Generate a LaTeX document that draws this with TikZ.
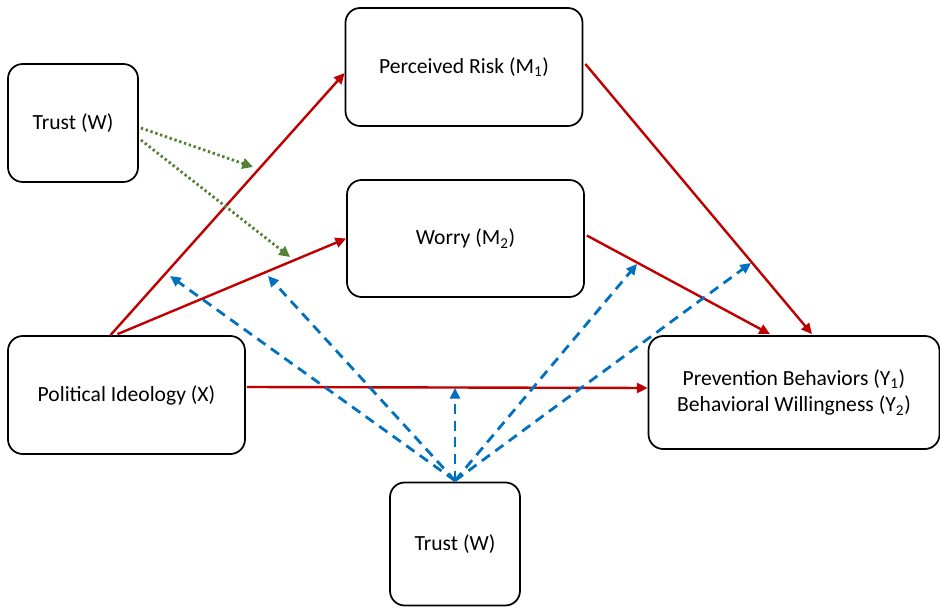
\documentclass[tikz,border=0pt]{standalone}
\usepackage{fontspec}
\setmainfont{Carlito}
\usetikzlibrary{arrows.meta,calc}
\definecolor{cred}{RGB}{192,0,0}
\definecolor{cblue}{RGB}{0,112,192}
\definecolor{cgreen}{RGB}{84,130,53}
\begin{document}
\begin{tikzpicture}[x=0.75pt,y=-0.75pt,
  box/.style={draw=black,line width=1.3pt,rounded corners=11pt,align=center,inner sep=0pt,font=\fontsize{16.2}{20}\selectfont},
  redarr/.style={draw=cred,line width=1.8pt,-{Triangle[length=8pt,width=7.5pt]}},
  bluearr/.style={draw=cblue,line width=2.1pt,dash pattern=on 7.5pt off 5pt,-{Triangle[length=8pt,width=7.5pt]}},
  greenarr/.style={draw=cgreen,line width=2.1pt,dash pattern=on 1.8pt off 2pt,-{Triangle[length=8pt,width=8pt]}}]
\useasboundingbox (0,0) rectangle (940,609);
\node[box,minimum width=97.5pt,minimum height=88.5pt] (trustA) at (73,123) {Trust (W)};
\node[box,minimum width=177.75pt,minimum height=88.5pt] (pr) at (464,67) {Perceived Risk (M\textsubscript{1})};
\node[box,minimum width=177.75pt,minimum height=87.75pt] (worry) at (465.5,238.5) {Worry (M\textsubscript{2})};
\node[box,minimum width=177.75pt,minimum height=88.5pt] (pol) at (126.5,395) {Political Ideology (X)};
\node[box,minimum width=218.25pt,minimum height=84.75pt] (prev) at (794,392.5) {Prevention Behaviors (Y\textsubscript{1})\\Behavioral Willingness (Y\textsubscript{2})};
\node[box,minimum width=97.5pt,minimum height=92.25pt] (trustB) at (455,544) {Trust (W)};
% red paths
\draw[redarr] ($(pol.north)+(-16,0)$) -- ($(pr.west)+(0,6)$);
\draw[redarr] ($(pol.north)+(-9,-1)$) -- (worry.west);
\draw[redarr] ($(pol.east)+(1,-8)$) -- ($(prev.west)+(0,-4.5)$);
\draw[redarr] ($(pr.east)+(2,-3)$) -- ($(prev.north)+(18,-1)$);
\draw[redarr] ($(worry.east)+(2,-3)$) -- ($(prev.north)+(-24,-1)$);
% blue moderation
\coordinate (b1) at (170,276);
\coordinate (b2) at (268,276);
\coordinate (b3) at (455,388);
\coordinate (b4) at (637,264);
\coordinate (b5) at (751,263);
\foreach \t in {b1,b2,b3,b4,b5}
  \draw[bluearr] ($(trustB.north)+(0,-1)$) -- (\t);
% green moderation
\coordinate (g1) at (253,167);
\coordinate (g2) at (290,257);
\draw[greenarr] ($(trustA.east)+(2,5)$) -- (g1);
\draw[greenarr] ($(trustA.east)+(2,17)$) -- (g2);
\end{tikzpicture}
\end{document}
